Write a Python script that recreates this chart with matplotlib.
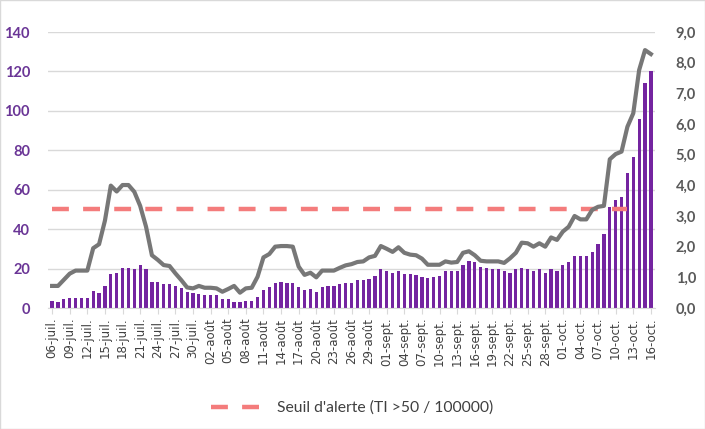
import matplotlib
matplotlib.use("Agg")
import matplotlib.pyplot as plt
from matplotlib.patches import Rectangle
import numpy as np

plt.rcParams["font.family"] = ["Lato", "DejaVu Sans"]

# taux d'incidence quotidien (barres, axe gauche), 06-juil. -> 16-oct.
incidence = [
    3.7, 3.0, 4.6, 5.2, 5.2, 5.2, 5.2, 8.8, 7.4, 11.3,
    17.1, 17.9, 20.1, 20.3, 20.0, 21.8, 19.6, 13.4, 13.4, 12.2,
    12.2, 11.2, 10.3, 7.9, 7.6, 7.1, 6.8, 6.4, 6.4, 4.5,
    4.5, 3.0, 2.9, 3.6, 3.6, 5.8, 9.0, 10.7, 12.9, 13.3,
    12.9, 12.5, 10.5, 9.2, 9.8, 8.1, 10.5, 11.0, 11.4, 12.0,
    12.6, 12.9, 14.2, 14.2, 14.7, 16.4, 19.6, 18.9, 17.9, 18.8,
    17.3, 17.3, 16.6, 15.6, 15.0, 15.6, 16.4, 18.8, 18.8, 18.8,
    22.0, 24.0, 23.2, 21.0, 20.2, 19.8, 19.6, 18.9, 17.9, 19.6,
    20.1, 19.6, 18.9, 19.6, 17.9, 19.6, 18.9, 21.8, 23.3, 26.4,
    26.4, 26.4, 28.6, 32.4, 37.5, 51.0, 54.8, 56.2, 68.5, 76.7,
    96.0, 114.0, 120.0,
]

# indicateur secondaire (courbe grise, axe droit)
ratio = [
    0.72, 0.72, 0.92, 1.12, 1.22, 1.22, 1.22, 1.95, 2.08, 2.85,
    3.99, 3.80, 4.01, 4.01, 3.79, 3.33, 2.65, 1.72, 1.57, 1.40,
    1.37, 1.13, 0.91, 0.67, 0.64, 0.72, 0.66, 0.66, 0.64, 0.53,
    0.62, 0.72, 0.50, 0.64, 0.66, 1.02, 1.65, 1.76, 2.00, 2.02,
    2.02, 2.00, 1.35, 1.08, 1.15, 1.00, 1.22, 1.22, 1.22, 1.31,
    1.39, 1.43, 1.50, 1.52, 1.65, 1.70, 2.02, 1.93, 1.83, 1.98,
    1.80, 1.74, 1.72, 1.61, 1.41, 1.41, 1.41, 1.52, 1.48, 1.50,
    1.80, 1.85, 1.72, 1.54, 1.52, 1.52, 1.52, 1.47, 1.62, 1.80,
    2.13, 2.11, 2.00, 2.11, 2.00, 2.30, 2.22, 2.49, 2.65, 3.00,
    2.89, 2.89, 3.20, 3.30, 3.33, 4.85, 5.02, 5.10, 5.91, 6.35,
    7.76, 8.41, 8.28,
]

# seuil d'alerte : 50 / 100 000, tracé jusqu'au 12-oct.
seuil = [50.0] * 99

tick_labels = [
    "06-juil.", "09-juil.", "12-juil.", "15-juil.", "18-juil.", "21-juil.",
    "24-juil.", "27-juil.", "30-juil.", "02-août", "05-août", "08-août",
    "11-août", "14-août", "17-août", "20-août", "23-août", "26-août",
    "29-août", "01-sept.", "04-sept.", "07-sept.", "10-sept.", "13-sept.",
    "16-sept.", "19-sept.", "22-sept.", "25-sept.", "28-sept.", "01-oct.",
    "04-oct.", "07-oct.", "10-oct.", "13-oct.", "16-oct.",
]
tick_step = 3

BAR_COLOR = "#7424a0"
LINE_GRAY = "#777777"
SEUIL_RED = "#f47c7c"
LEFT_TXT = "#6a3596"
RIGHT_TXT = "#595959"
GRID = "#d9d9d9"

fig = plt.figure(figsize=(7.05, 4.29), dpi=100)
fig.patch.set_facecolor("white")
ax = fig.add_axes([48 / 705, 1 - 308 / 429, 607 / 705, 276 / 429])
ax2 = ax.twinx()

x = np.arange(len(incidence))
ax.bar(x, incidence, width=0.55, color=BAR_COLOR, zorder=2)
seuil_line, = ax.plot(np.arange(len(seuil)), seuil, color=SEUIL_RED, lw=3.2,
                      dashes=(3.8, 3.2), solid_capstyle="butt",
                      dash_capstyle="butt", zorder=3,
                      label="Seuil d'alerte (TI >50 / 100000)")
ax2.plot(x, ratio, color=LINE_GRAY, lw=3.0, solid_joinstyle="round", zorder=4)

ax.set_xlim(-0.7, len(incidence) - 0.3)
ax.set_ylim(0, 140)
ax.set_yticks(np.arange(0, 141, 20))
ax2.set_ylim(0, 9)
ax2.set_yticks(np.arange(0, 9.1, 1))
ax2.set_yticklabels([f"{v:.1f}".replace(".", ",") for v in np.arange(0, 9.1, 1)])

ax.grid(axis="y", color=GRID, lw=1.0, zorder=0)
ax.set_axisbelow(True)
for a in (ax, ax2):
    for s in a.spines.values():
        s.set_visible(False)
ax.spines["bottom"].set_visible(True)
ax.spines["bottom"].set_color(GRID)

ax.set_xticks(np.arange(0, len(incidence), tick_step))
ax.set_xticklabels(tick_labels, rotation=90, fontsize=8.5, color="#404040",
                   family="DejaVu Sans")
ax.tick_params(axis="x", length=4, color=GRID, pad=3)
ax.tick_params(axis="y", length=0, pad=13, labelsize=10.5, labelcolor=LEFT_TXT)
for t in ax.get_yticklabels():
    t.set_fontweight("bold")
ax2.tick_params(axis="y", length=0, pad=15, labelsize=10.5, labelcolor=RIGHT_TXT)
for t in ax2.get_yticklabels():
    t.set_fontweight("bold")

fig.legend(handles=[seuil_line], loc="center", bbox_to_anchor=(0.5, 0.049),
           frameon=False, fontsize=11.3, labelcolor="#404040",
           handlelength=3.2, handletextpad=1.0)

fig.patches.append(Rectangle((0, 0), 1, 1, transform=fig.transFigure,
                             fill=False, edgecolor=GRID, lw=1.0))

fig.savefig("out.png", dpi=100, facecolor="white")
